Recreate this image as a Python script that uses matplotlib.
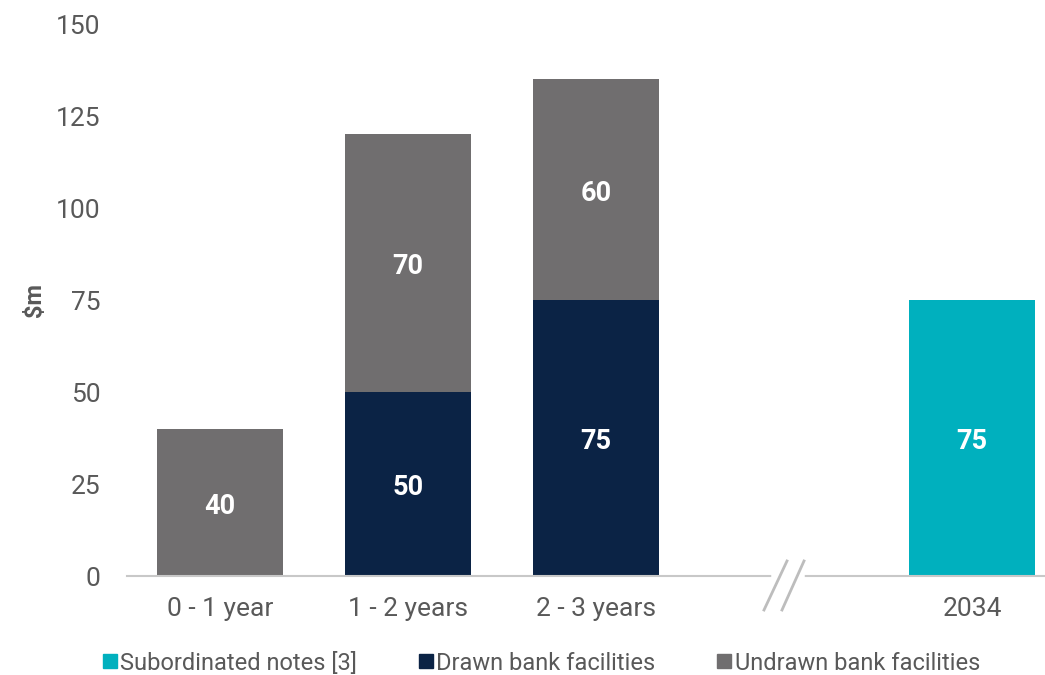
import matplotlib.pyplot as plt
from matplotlib.lines import Line2D

plt.rcParams['font.family'] = ['Roboto', 'DejaVu Sans']

# data
categories = ["0 - 1 year", "1 - 2 years", "2 - 3 years", "", "2034"]
drawn = [0, 50, 75, 0, 0]
undrawn = [40, 70, 60, 0, 0]
subordinated = [0, 0, 0, 0, 75]

c_sub = "#00B0BE"
c_drawn = "#0B2345"
c_undrawn = "#706E6F"
txt = "#595959"

fig = plt.figure(figsize=(10.45, 6.75), dpi=100)
ax = fig.add_axes([127 / 1045, 1 - 576 / 675, 918 / 1045, 552 / 675])

x = list(range(len(categories)))
w = 0.67
ax.bar(x, drawn, w, color=c_drawn)
ax.bar(x, undrawn, w, bottom=drawn, color=c_undrawn)
ax.bar(x, subordinated, w, color=c_sub)

# labels inside segments
lbl = dict(ha="center", va="center", color="white", fontsize=19.5, fontweight="bold")
for i in x:
    if drawn[i]:
        ax.text(i, drawn[i] / 2 - 1, str(drawn[i]), **lbl)
    if undrawn[i]:
        ax.text(i, drawn[i] + undrawn[i] / 2 - 1, str(undrawn[i]), **lbl)
    if subordinated[i]:
        ax.text(i, subordinated[i] / 2 - 1, str(subordinated[i]), **lbl)

ax.set_xlim(-0.495, 4.388)
ax.set_ylim(0, 150)
ax.set_yticks([0, 25, 50, 75, 100, 125, 150])
ax.set_xticks([0, 1, 2, 4])
ax.set_xticklabels([categories[0], categories[1], categories[2], categories[4]])
ax.tick_params(axis="both", length=0, labelsize=19, labelcolor=txt)
ax.tick_params(axis="x", pad=15)
ax.tick_params(axis="y", pad=19)
for s in ["top", "right", "left"]:
    ax.spines[s].set_visible(False)
ax.spines["bottom"].set_color("#C8C8C8")
ax.spines["bottom"].set_linewidth(1.5)
ax.set_ylabel("$m", fontsize=17, fontweight="bold", color=txt)
ax.yaxis.set_label_coords((46 - 127) / 918, 0.5)

# axis break
def px(xp, yp):
    return ((xp - 127) / 918, (576 - yp) / 552)

ax.plot(*zip(px(774, 576), px(802, 576)), transform=ax.transAxes, color="white",
        lw=4, clip_on=False, zorder=5)
for x0, x1 in [(764, 787), (782, 804)]:
    ax.plot(*zip(px(x0, 610), px(x1, 561)), transform=ax.transAxes, color="#BDBDBD",
            lw=2, clip_on=False, zorder=6)

handles = [
    Line2D([], [], marker="s", ls="", color=c_sub, markersize=9.5),
    Line2D([], [], marker="s", ls="", color=c_drawn, markersize=9.5),
    Line2D([], [], marker="s", ls="", color=c_undrawn, markersize=9.5),
]
fig.legend(handles, ["Subordinated notes [3]", "Drawn bank facilities", "Undrawn bank facilities"],
           loc="center", bbox_to_anchor=(540 / 1045, 1 - 663 / 675), ncol=3, frameon=False,
           fontsize=17, labelcolor=txt, handletextpad=0.05, columnspacing=2.5, handlelength=0.8)

fig.savefig("out.png", dpi=100)
